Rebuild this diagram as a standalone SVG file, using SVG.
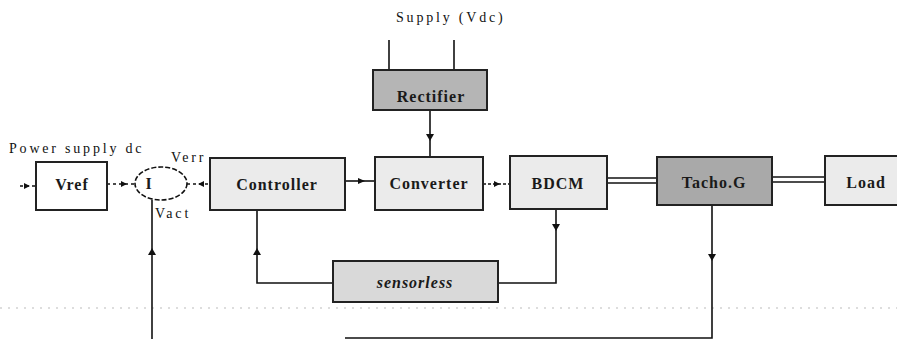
<svg xmlns="http://www.w3.org/2000/svg" width="897" height="339" viewBox="0 0 897 339">
<style>
.box{stroke:#222;stroke-width:2}
.light{fill:#ebebeb}
.mid{fill:#d9d9d9}
.dark{fill:#b5b5b5}
.white{fill:#fff}
.t{font-family:"Liberation Serif","DejaVu Serif",serif;font-size:16px;font-weight:bold;fill:#1a1a1a;text-anchor:middle;letter-spacing:1px}
.s{font-family:"Liberation Serif","DejaVu Serif",serif;font-size:14px;fill:#111;letter-spacing:2.8px}
.w{stroke:#111;stroke-width:1.6;fill:none}
.ah{fill:#111}
</style>
<line x1="0" y1="308" x2="897" y2="308" stroke="#bbb" stroke-width="1" stroke-dasharray="2 6"/>
<text class="s" x="9" y="153">Power supply dc</text>
<text class="s" x="396" y="22">Supply (Vdc)</text>
<text class="s" x="171" y="162">Verr</text>
<text class="s" x="155" y="218">Vact</text>
<g id="connectors">
<line class="w" x1="389" y1="40" x2="389" y2="70"/>
<line class="w" x1="454" y1="40" x2="454" y2="70"/>
<line class="w" x1="430" y1="110" x2="430" y2="157"/>
<path class="ah" d="M426,134 L434,134 L430,141 z"/>
<line class="w" x1="20" y1="186" x2="36" y2="186" stroke-dasharray="3 3"/>
<path class="ah" d="M24,183 L30,186 L24,189 z"/>
<line class="w" x1="107" y1="184" x2="135" y2="184" stroke-dasharray="3 3"/>
<path class="ah" d="M121,181 L127,184 L121,187 z"/>
<line class="w" x1="187" y1="184" x2="210" y2="184" stroke-dasharray="3 3"/>
<path class="ah" d="M204,181 L198,184 L204,187 z"/>
<line class="w" x1="345" y1="181" x2="375" y2="181"/>
<path class="ah" d="M358,178 L365,181 L358,184 z"/>
<line class="w" x1="483" y1="184" x2="510" y2="184" stroke-dasharray="3 2"/>
<path class="ah" d="M494,181 L500,184 L494,187 z"/>
<line class="w" x1="607" y1="178" x2="657" y2="178"/>
<line class="w" x1="607" y1="183" x2="657" y2="183"/>
<line class="w" x1="772" y1="177" x2="825" y2="177"/>
<line class="w" x1="772" y1="182" x2="825" y2="182"/>
<polyline class="w" points="556,209 556,283 498,283"/>
<path class="ah" d="M552,224 L560,224 L556,231 z"/>
<polyline class="w" points="333,283 257,283 257,210"/>
<path class="ah" d="M253,255 L261,255 L257,248 z"/>
<polyline class="w" points="712,205 712,338 345,338"/>
<path class="ah" d="M708,254 L716,254 L712,261 z"/>
<line class="w" x1="152" y1="200" x2="152" y2="339"/>
<path class="ah" d="M148,255 L156,255 L152,248 z"/>
</g>
<g id="vref"><rect class="box white" x="36" y="162" width="71" height="48"/><text class="t" x="72" y="190">Vref</text></g>
<g id="sum"><ellipse cx="161" cy="183.5" rx="26" ry="16.5" fill="#fff" stroke="#111" stroke-width="1.6" stroke-dasharray="5 2"/><text class="t" x="149" y="189" font-weight="normal">I</text></g>
<g id="controller"><rect class="box light" x="210" y="158" width="135" height="52"/><text class="t" x="277" y="190">Controller</text></g>
<g id="rectifier"><rect class="box dark" x="373" y="70" width="114" height="40"/><text class="t" x="431" y="102">Rectifier</text></g>
<g id="converter"><rect class="box light" x="375" y="157" width="108" height="53"/><text class="t" x="429" y="189">Converter</text></g>
<g id="bdcm"><rect class="box light" x="510" y="156" width="97" height="53"/><text class="t" x="558" y="189">BDCM</text></g>
<g id="tacho"><rect class="box" fill="#a9a9a9" x="657" y="157" width="115" height="48"/><text class="t" x="714" y="188">Tacho.G</text></g>
<g id="load"><rect class="box light" x="825" y="156" width="74" height="49"/><text class="t" x="866" y="188">Load</text></g>
<g id="sensorless"><rect class="box mid" x="333" y="261" width="165" height="41"/><text class="t" x="415" y="288" font-style="italic">sensorless</text></g>
</svg>
